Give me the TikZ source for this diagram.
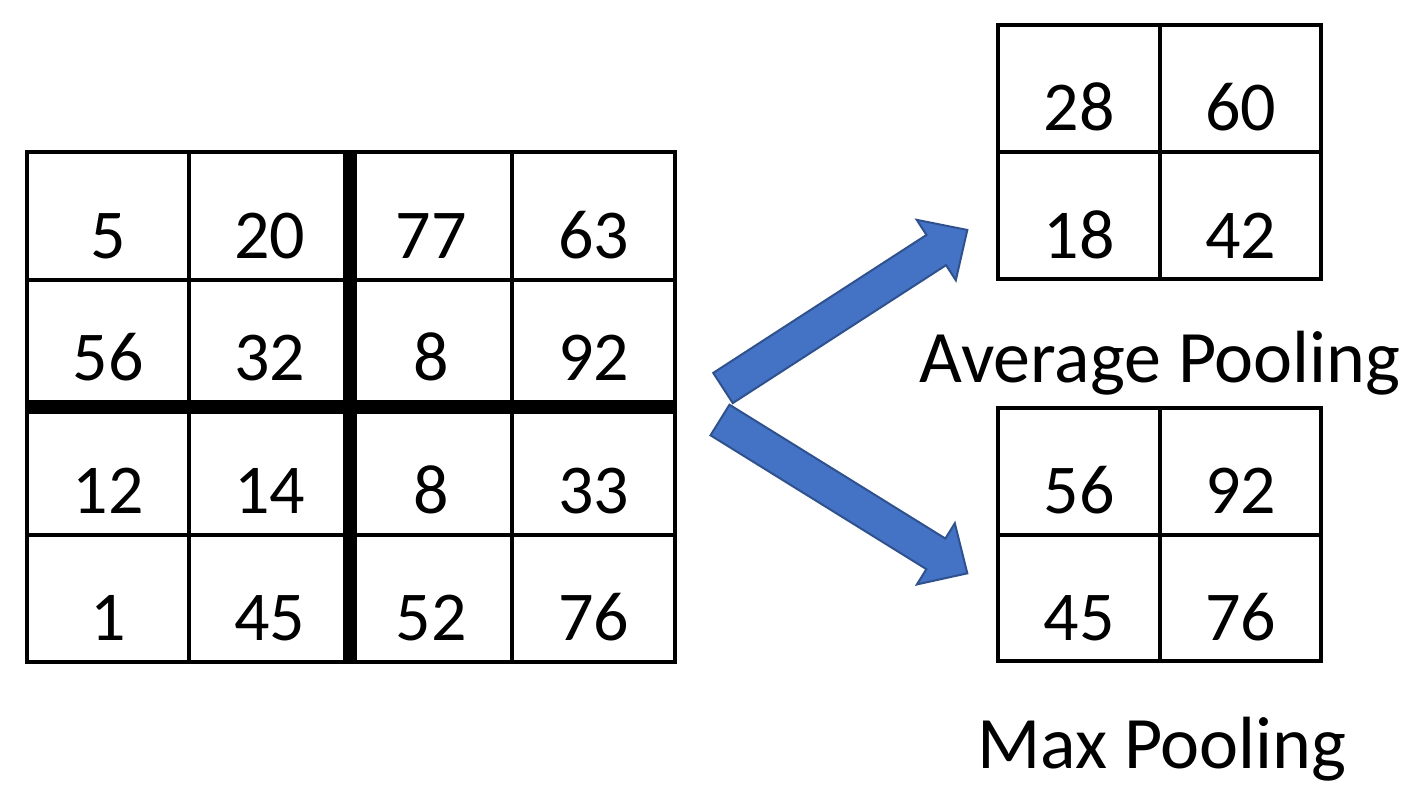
\documentclass[tikz,border=0pt]{standalone}
\usepackage{fontspec}
\setmainfont{Carlito}
\definecolor{arrfill}{HTML}{4472C4}
\definecolor{arrline}{HTML}{2F528F}
\tikzset{
  num/.style={anchor=base, inner sep=0pt, font=\fontsize{70}{80}\selectfont},
  lbl/.style={anchor=base, inner sep=0pt, font=\fontsize{74}{84}\selectfont},
  thin/.style={line width=4.5pt, line cap=rect},
  thick/.style={line width=14pt},
  blockarrow/.style={fill=arrfill, draw=arrline, line width=2pt, line join=miter}
}
\begin{document}
\begin{tikzpicture}[x=1pt, y=-1pt]
\useasboundingbox (0,0) rectangle (1426,806);
% big grid
\draw[thin] (27,152) rectangle (675,662);
\draw[thin] (189,152) -- (189,662);
\draw[thin] (512,152) -- (512,662);
\draw[thin] (27,280) -- (675,280);
\draw[thin] (27,535) -- (675,535);
\draw[thick] (350,152) -- (350,662);
\draw[thick] (27,407) -- (675,407);
% numbers big grid
\node[num] (b11) at (108,258) {5};
\node[num] (b12) at (269.5,258) {20};
\node[num] (b13) at (431,258) {77};
\node[num] (b14) at (593.5,258) {63};
\node[num] (b21) at (108,380) {56};
\node[num] (b22) at (269.5,380) {32};
\node[num] (b23) at (431,380) {8};
\node[num] (b24) at (593.5,380) {92};
\node[num] (b31) at (108,513) {12};
\node[num] (b32) at (269.5,513) {14};
\node[num] (b33) at (431,513) {8};
\node[num] (b34) at (593.5,513) {33};
\node[num] (b41) at (108,640) {1};
\node[num] (b42) at (269.5,640) {45};
\node[num] (b43) at (431,640) {52};
\node[num] (b44) at (593.5,640) {76};
% average pooling grid
\draw[thin] (998,25) rectangle (1321,279);
\draw[thin] (1160,25) -- (1160,279);
\draw[thin] (998,152) -- (1321,152);
\node[num] (a11) at (1079,130) {28};
\node[num] (a12) at (1240.5,130) {60};
\node[num] (a21) at (1079,258) {18};
\node[num] (a22) at (1240.5,258) {42};
\node[lbl] (avg) at (1160,382) {Average Pooling};
% max pooling grid
\draw[thin] (998,408) rectangle (1321,661);
\draw[thin] (1160,408) -- (1160,661);
\draw[thin] (998,535) -- (1321,535);
\node[num] (m11) at (1079,513) {56};
\node[num] (m12) at (1240.5,513) {92};
\node[num] (m21) at (1079,640) {45};
\node[num] (m22) at (1240.5,640) {76};
\node[lbl] (max) at (1162,768) {Max Pooling};
% arrows
\begin{scope}[shift={(723,388)}, rotate=32.9]
\draw[blockarrow] (0,-18) -- (254,-18) -- (254,-36) -- (291,0) -- (254,36) -- (254,18) -- (0,18) -- cycle;
\end{scope}
\begin{scope}[shift={(720,420)}, rotate=-31.8]
\draw[blockarrow] (0,-18) -- (254,-18) -- (254,-36) -- (291,0) -- (254,36) -- (254,18) -- (0,18) -- cycle;
\end{scope}
\end{tikzpicture}
\end{document}
